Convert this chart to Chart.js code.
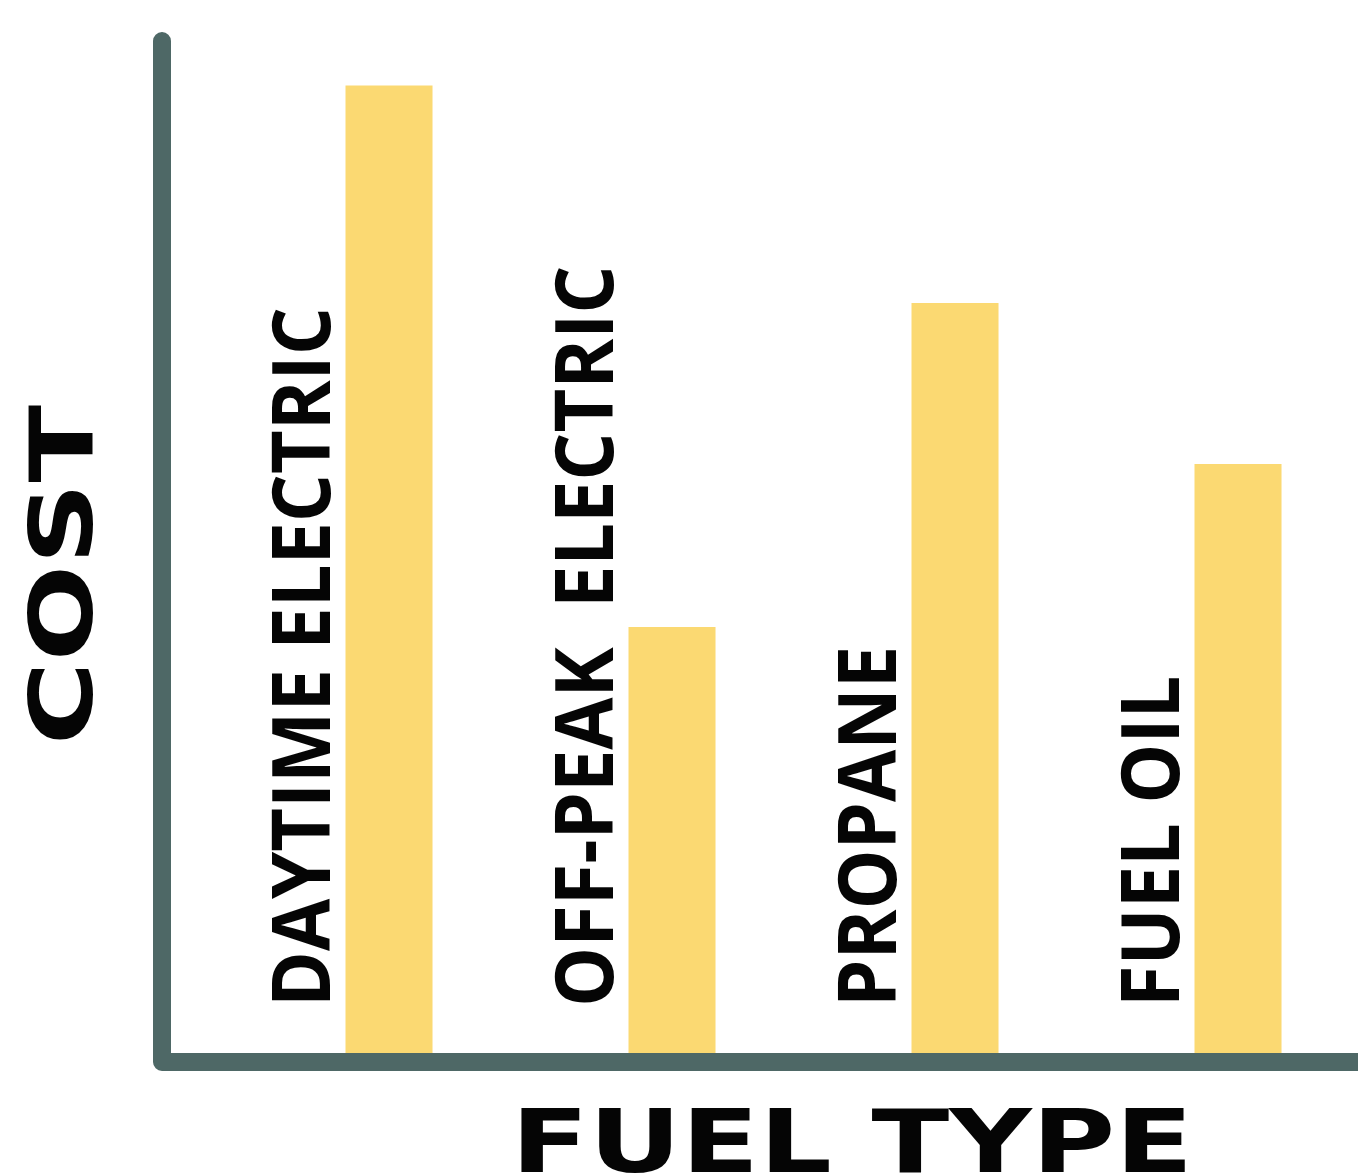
<!DOCTYPE html>
<html>
<head>
<meta charset="utf-8">
<script src="https://cdn.jsdelivr.net/npm/chart.js@4/dist/chart.umd.min.js"></script>
<style>
  html, body { margin: 0; padding: 0; background: #ffffff; overflow: hidden; }
  #wrap { width: 1358px; height: 1176px; }
</style>
</head>
<body>
<div id="wrap"><canvas id="myChart" width="1358" height="1176"></canvas></div>
<script>
// Fuel cost data (no numeric axis in the picture, values relative to 100)
const fuelTypes = ["DAYTIME ELECTRIC", "OFF-PEAK  ELECTRIC", "PROPANE", "FUEL OIL"];
const costValues = [95.6, 42.1, 74.1, 58.2];
const yAxisTitle = "COST";
const xAxisTitle = "FUEL TYPE";

const barColor = "#FBD972";
const axisColor = "#4E6866";

// axis lines with rounded ends, drawn from the chart area
const axisLines = {
    id: "axisLines",
    afterDatasetsDraw(chart, args, opts) {
        const { ctx, chartArea } = chart;
        const x0 = chartArea.left - opts.gapLeft;
        const y0 = chartArea.bottom + opts.width / 2;
        ctx.save();
        ctx.strokeStyle = opts.color;
        ctx.lineWidth = opts.width;
        ctx.lineCap = "round";
        ctx.lineJoin = "round";
        ctx.beginPath();
        ctx.moveTo(x0, chartArea.top);
        ctx.lineTo(x0, y0);
        ctx.lineTo(chart.width + opts.width, y0);
        ctx.stroke();
        ctx.restore();
    }
};

// vertical category labels, placed in the empty slot left of each bar
const slotLabels = {
    id: "slotLabels",
    afterDatasetsDraw(chart, args, opts) {
        const { ctx, chartArea } = chart;
        const meta = chart.getDatasetMeta(0);
        ctx.save();
        ctx.fillStyle = "#050505";
        ctx.font = opts.font;
        ctx.textAlign = "left";
        ctx.textBaseline = "alphabetic";
        meta.data.forEach((el, i) => {
            ctx.save();
            ctx.translate(el.x, chartArea.bottom - opts.lift);
            ctx.rotate(-Math.PI / 2);
            ctx.scale(opts.squeeze, 1);
            ctx.fillText(chart.data.labels[i], 0, opts.capHeight / 2);
            ctx.restore();
        });
        ctx.restore();
    }
};

// wide, heavy axis titles
const axisTitles = {
    id: "axisTitles",
    afterDraw(chart, args, opts) {
        const { ctx, chartArea } = chart;
        ctx.save();
        ctx.fillStyle = "#050505";
        ctx.font = opts.font;
        ctx.textAlign = "center";
        ctx.textBaseline = "alphabetic";

        const xMid = (chartArea.left + chartArea.right) / 2 + opts.xShift;
        ctx.save();
        ctx.translate(xMid, chartArea.bottom + opts.xTitleDrop);
        ctx.scale(opts.stretch, 1);
        ctx.fillText(xAxisTitle, 0, 0);
        ctx.restore();

        ctx.save();
        ctx.translate(opts.yTitleX, (chartArea.top + chartArea.bottom) / 2 + opts.yShift);
        ctx.rotate(-Math.PI / 2);
        ctx.scale(opts.stretch, 1);
        ctx.fillText(yAxisTitle, 0, opts.capHeight / 2);
        ctx.restore();

        ctx.restore();
    }
};

const data = {
    labels: fuelTypes,
    datasets: [
        {
            label: "labels",
            data: fuelTypes.map(() => null),
            backgroundColor: "rgba(0,0,0,0)"
        },
        {
            label: "Cost",
            data: costValues,
            backgroundColor: barColor,
            borderWidth: 0
        }
    ]
};

const config = {
    type: "bar",
    data: data,
    plugins: [axisLines, slotLabels, axisTitles],
    options: {
        responsive: false,
        animation: false,
        layout: {
            padding: { left: 204, right: 22, top: 41, bottom: 123 }
        },
        datasets: {
            bar: {
                barPercentage: 1.0,
                categoryPercentage: 0.615
            }
        },
        scales: {
            x: { display: false },
            y: { display: false, min: 0, max: 100 }
        },
        plugins: {
            legend: { display: false },
            tooltip: { enabled: false },
            axisLines: { color: axisColor, width: 18, gapLeft: 42 },
            slotLabels: { font: "bold 80px 'Open Sans'", capHeight: 57, lift: 46, squeeze: 0.945 },
            axisTitles: {
                font: "bold 87px 'DejaVu Sans'",
                capHeight: 63,
                stretch: 1.31,
                xShift: 82,
                xTitleDrop: 119,
                yTitleX: 60,
                yShift: 28
            }
        }
    }
};

const myChart = new Chart(document.getElementById("myChart"), config);
</script>
</body>
</html>
